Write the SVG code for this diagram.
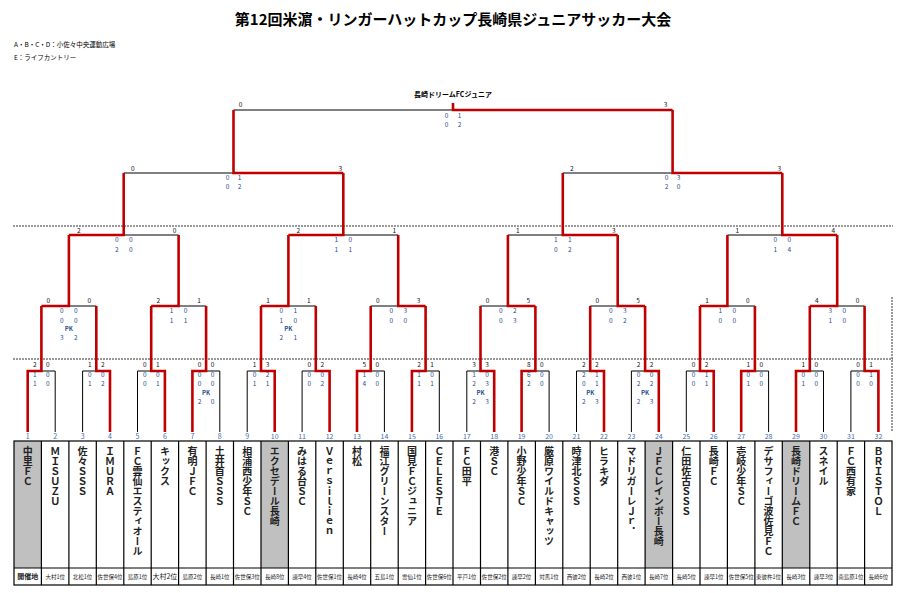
<svg xmlns="http://www.w3.org/2000/svg" width="903" height="593" viewBox="0 0 903 593">
<style>
text{font-family:"Noto Sans CJK JP","Liberation Sans",sans-serif;}
.ttl{font-size:15px;font-weight:bold;text-anchor:middle}
.sub{font-size:6.5px}
.bk{fill:none;stroke:#000;stroke-width:1}
.rd{fill:none;stroke:#c00000;stroke-width:2.6}
.dash{fill:none;stroke:#333;stroke-width:1;stroke-dasharray:2 1}
.t{font-size:6.5px;fill:#111;text-anchor:middle}
.h{font-size:6.5px;fill:#1f4f8f;text-anchor:middle}
.pk{font-size:6px;fill:#1f4f8f;text-anchor:middle;font-weight:bold}
.num{font-size:7px;fill:#3a6fb0;text-anchor:middle}
.nm{font-size:10px;font-weight:bold;writing-mode:vertical-rl;text-orientation:upright;fill:#222}
.loc{font-size:5.5px;text-anchor:middle;fill:#222}
.cell{fill:none;stroke:#000;stroke-width:1.2}
.sh{fill:#c0c0c0}
</style>
<rect width="903" height="593" fill="#fff"/>
<g id="header">
<text class="ttl" x="453" y="25">第12回米濵・リンガーハットカップ長崎県ジュニアサッカー大会</text>
<text class="sub" x="14" y="47">A・B・C・D：小佐々中央運動広場</text>
<text class="sub" x="14" y="60">E：ライフカントリー</text>
<text x="453" y="97" style="font-size:7px;font-weight:bold;text-anchor:middle">長崎ドリームFCジュニア</text>
</g>
<g id="guides">
<path class="dash" d="M13 226H893M13 359H893M892 297V432"/>
</g>
<g id="connectors">
<path class="bk" d="M41.4 371H55.2V432M96.3 371H82.6V432M151.2 371H137.5V432M206.1 371H219.8V432M261 371H247.2V432M315.8 371H302.1V432M370.7 371H384.4V432M425.6 371H439.3V432M480.5 371H466.8V432M535.4 371H549.1V432M590.2 371H576.5V432M645.1 371H631.4V432M700 371H686.3V432M754.9 371H768.6V432M809.8 371H823.5V432M864.6 371H850.9V432"/>
<path class="bk" d="M68.9 306H96.3M178.6 306H206.1M288.4 306H315.8M398.2 306H370.7M507.9 306H480.5M617.7 306H590.2M727.4 306H754.9M837.2 306H864.6M123.7 235H178.6M343.3 235H398.2M562.8 235H507.9M782.3 235H727.4M233.5 173H123.7M672.6 173H562.8M453 110H233.5"/>
<path class="rd" d="M27.7 432V371H41.4V306M110 432V371H96.3V306M164.9 432V371H151.2V306M192.4 432V371H206.1V306M274.7 432V371H261V306M329.6 432V371H315.8V306M357 432V371H370.7V306M411.9 432V371H425.6V306M494.2 432V371H480.5V306M521.6 432V371H535.4V306M604 432V371H590.2V306M658.8 432V371H645.1V306M713.7 432V371H700V306M741.2 432V371H754.9V306M796 432V371H809.8V306M878.4 432V371H864.6V306"/>
<path class="rd" d="M41.4 306H68.9V235M151.2 306H178.6V235M261 306H288.4V235M425.6 306H398.2V235M535.4 306H507.9V235M645.1 306H617.7V235M700 306H727.4V235M809.8 306H837.2V235M68.9 235H123.7V173M288.4 235H343.3V173M617.7 235H562.8V173M837.2 235H782.3V173M343.3 173H233.5V110M782.3 173H672.6V110M672.6 110H453V103"/>
</g>
<g id="scores">
<text class="t" x="34.9 47.9" y="367">20</text><text class="h" x="34.9 47.9" y="376.5">10</text><text class="h" x="34.9 47.9" y="386">10</text>
<text class="t" x="89.8 102.8" y="367">12</text><text class="h" x="89.8 102.8" y="376.5">00</text><text class="h" x="89.8 102.8" y="386">12</text>
<text class="t" x="144.7 157.7" y="367">01</text><text class="h" x="144.7 157.7" y="376.5">00</text><text class="h" x="144.7 157.7" y="386">01</text>
<text class="t" x="199.6 212.6" y="367">00</text><text class="h" x="199.6 212.6" y="376.5">00</text><text class="h" x="199.6 212.6" y="386">00</text><text class="pk" x="206.1" y="395">PK</text><text class="h" x="199.6 212.6" y="404">20</text>
<text class="t" x="254.5 267.5" y="367">13</text><text class="h" x="254.5 267.5" y="376.5">02</text><text class="h" x="254.5 267.5" y="386">11</text>
<text class="t" x="309.3 322.3" y="367">02</text><text class="h" x="309.3 322.3" y="376.5">00</text><text class="h" x="309.3 322.3" y="386">02</text>
<text class="t" x="364.2 377.2" y="367">50</text><text class="h" x="364.2 377.2" y="376.5">10</text><text class="h" x="364.2 377.2" y="386">40</text>
<text class="t" x="419.1 432.1" y="367">21</text><text class="h" x="419.1 432.1" y="376.5">10</text><text class="h" x="419.1 432.1" y="386">11</text>
<text class="t" x="474 487" y="367">33</text><text class="h" x="474 487" y="376.5">10</text><text class="h" x="474 487" y="386">23</text><text class="pk" x="480.5" y="395">PK</text><text class="h" x="474 487" y="404">23</text>
<text class="t" x="528.9 541.9" y="367">80</text><text class="h" x="528.9 541.9" y="376.5">60</text><text class="h" x="528.9 541.9" y="386">20</text>
<text class="t" x="583.7 596.7" y="367">22</text><text class="h" x="583.7 596.7" y="376.5">21</text><text class="h" x="583.7 596.7" y="386">01</text><text class="pk" x="590.2" y="395">PK</text><text class="h" x="583.7 596.7" y="404">23</text>
<text class="t" x="638.6 651.6" y="367">22</text><text class="h" x="638.6 651.6" y="376.5">00</text><text class="h" x="638.6 651.6" y="386">22</text><text class="pk" x="645.1" y="395">PK</text><text class="h" x="638.6 651.6" y="404">23</text>
<text class="t" x="693.5 706.5" y="367">02</text><text class="h" x="693.5 706.5" y="376.5">01</text><text class="h" x="693.5 706.5" y="386">01</text>
<text class="t" x="748.4 761.4" y="367">10</text><text class="h" x="748.4 761.4" y="376.5">00</text><text class="h" x="748.4 761.4" y="386">10</text>
<text class="t" x="803.3 816.3" y="367">10</text><text class="h" x="803.3 816.3" y="376.5">00</text><text class="h" x="803.3 816.3" y="386">10</text>
<text class="t" x="858.1 871.1" y="367">01</text><text class="h" x="858.1 871.1" y="376.5">01</text><text class="h" x="858.1 871.1" y="386">00</text>

<text class="t" x="48.4 89.3" y="303">00</text><text class="h" x="61.9 75.9" y="312.5">00</text><text class="h" x="61.9 75.9" y="323">00</text><text class="pk" x="68.9" y="330.5">PK</text><text class="h" x="61.9 75.9" y="339.5">32</text>
<text class="t" x="158.2 199.1" y="303">21</text><text class="h" x="171.6 185.6" y="312.5">10</text><text class="h" x="171.6 185.6" y="323">11</text>
<text class="t" x="268 308.8" y="303">11</text><text class="h" x="281.4 295.4" y="312.5">01</text><text class="h" x="281.4 295.4" y="323">10</text><text class="pk" x="288.4" y="330.5">PK</text><text class="h" x="281.4 295.4" y="339.5">21</text>
<text class="t" x="377.7 418.6" y="303">03</text><text class="h" x="391.2 405.2" y="312.5">03</text><text class="h" x="391.2 405.2" y="323">00</text>
<text class="t" x="487.5 528.4" y="303">05</text><text class="h" x="500.9 514.9" y="312.5">02</text><text class="h" x="500.9 514.9" y="323">03</text>
<text class="t" x="597.2 638.1" y="303">05</text><text class="h" x="610.7 624.7" y="312.5">03</text><text class="h" x="610.7 624.7" y="323">02</text>
<text class="t" x="707 747.9" y="303">10</text><text class="h" x="720.4 734.4" y="312.5">10</text><text class="h" x="720.4 734.4" y="323">00</text>
<text class="t" x="816.8 857.6" y="303">40</text><text class="h" x="830.2 844.2" y="312.5">30</text><text class="h" x="830.2 844.2" y="323">10</text>

<text class="t" x="78.9 174.6" y="233">20</text><text class="h" x="116.7 130.7" y="242">00</text><text class="h" x="116.7 130.7" y="252">20</text>
<text class="t" x="298.4 394.2" y="233">21</text><text class="h" x="336.3 350.3" y="242">10</text><text class="h" x="336.3 350.3" y="252">11</text>
<text class="t" x="517.9 613.7" y="233">13</text><text class="h" x="555.8 569.8" y="242">11</text><text class="h" x="555.8 569.8" y="252">02</text>
<text class="t" x="737.4 833.2" y="233">14</text><text class="h" x="775.3 789.3" y="242">00</text><text class="h" x="775.3 789.3" y="252">14</text>

<text class="t" x="132.7 340.3" y="170.5">03</text><text class="h" x="227.5 239.5" y="180">01</text><text class="h" x="227.5 239.5" y="189">02</text>
<text class="t" x="571.8 779.3" y="170.5">23</text><text class="h" x="666.6 678.6" y="180">03</text><text class="h" x="666.6 678.6" y="189">20</text>

<text class="t" x="240.5 665.6" y="107">03</text><text class="h" x="446.5 459.5" y="117.5">01</text><text class="h" x="446.5 459.5" y="127">02</text>
</g>
<g id="team-numbers">
<text class="num" x="27.7 55.2 82.6 110 137.5 164.9 192.4 219.8 247.2" y="439">123456789</text>
<text class="num" x="274.7" y="439">10</text><text class="num" x="302.1" y="439">11</text><text class="num" x="329.6" y="439">12</text><text class="num" x="357" y="439">13</text><text class="num" x="384.4" y="439">14</text><text class="num" x="411.9" y="439">15</text><text class="num" x="439.3" y="439">16</text><text class="num" x="466.8" y="439">17</text><text class="num" x="494.2" y="439">18</text><text class="num" x="521.6" y="439">19</text><text class="num" x="549.1" y="439">20</text><text class="num" x="576.5" y="439">21</text><text class="num" x="604" y="439">22</text><text class="num" x="631.4" y="439">23</text><text class="num" x="658.8" y="439">24</text><text class="num" x="686.3" y="439">25</text><text class="num" x="713.7" y="439">26</text><text class="num" x="741.2" y="439">27</text><text class="num" x="768.6" y="439">28</text><text class="num" x="796" y="439">29</text><text class="num" x="823.5" y="439">30</text><text class="num" x="850.9" y="439">31</text><text class="num" x="878.4" y="439">32</text>
</g>
<g id="team-table">
<rect class="sh" x="14" y="441" width="27.44" height="127"/>
<rect class="sh" x="260.96" y="441" width="27.44" height="127"/>
<rect class="sh" x="645.12" y="441" width="27.44" height="127"/>
<rect class="sh" x="782.32" y="441" width="27.44" height="127"/>
<rect class="cell" x="14" y="441" width="878" height="144"/>
<path class="cell" d="M14 568H892M41.4 441V585M68.9 441V585M96.3 441V585M123.8 441V585M151.2 441V585M178.6 441V585M206.1 441V585M233.5 441V585M261 441V585M288.4 441V585M315.8 441V585M343.3 441V585M370.7 441V585M398.2 441V585M425.6 441V585M453 441V585M480.5 441V585M507.9 441V585M535.4 441V585M562.8 441V585M590.2 441V585M617.7 441V585M645.1 441V585M672.6 441V585M700 441V585M727.4 441V585M754.9 441V585M782.3 441V585M809.8 441V585M837.2 441V585M864.6 441V585"/>
</g>
<g id="team-names">
<text class="nm" x="27.7" y="446">中里ＦＣ</text>
<text class="nm" x="55.2" y="446">ＭＩＳＵＺＵ</text>
<text class="nm" x="82.6" y="446">佐々ＳＳＳ</text>
<text class="nm" x="110" y="446">ＩＭＵＲＡ</text>
<text class="nm" x="137.5" y="446">ＦＣ雲仙エスティオール</text>
<text class="nm" x="164.9" y="446">キックス</text>
<text class="nm" x="192.4" y="446">有明ＪＦＣ</text>
<text class="nm" x="219.8" y="446">土井首ＳＳＳ</text>
<text class="nm" x="247.2" y="446">相浦西少年ＳＣ</text>
<text class="nm" x="274.7" y="446">エクセデール長崎</text>
<text class="nm" x="302.1" y="446">みはる台ＳＣ</text>
<text class="nm" x="329.6" y="446">Ｖｅｒｓｉｌｉｅｎ</text>
<text class="nm" x="357" y="446">村松</text>
<text class="nm" x="384.4" y="446">福江グリーンスター</text>
<text class="nm" x="411.9" y="446">国見ＦＣジュニア</text>
<text class="nm" x="439.3" y="446">ＣＥＬＥＳＴＥ</text>
<text class="nm" x="466.8" y="446">ＦＣ田平</text>
<text class="nm" x="494.2" y="446">港ＳＣ</text>
<text class="nm" x="521.6" y="446">小野少年ＳＣ</text>
<text class="nm" x="549.1" y="446">厳原ワイルドキャッツ</text>
<text class="nm" x="576.5" y="446">時津北ＳＳＳ</text>
<text class="nm" x="604" y="446">ヒラキダ</text>
<text class="nm" x="631.4" y="446">マドリガーレＪｒ．</text>
<text class="nm" x="658.8" y="446">ＪＦＣレインボー長崎</text>
<text class="nm" x="686.3" y="446">仁田佐古ＳＳＳ</text>
<text class="nm" x="713.7" y="446">長崎ＦＣ</text>
<text class="nm" x="741.2" y="446">壱岐少年ＳＣ</text>
<text class="nm" x="768.6" y="446">デサフィーゴ波佐見ＦＣ</text>
<text class="nm" x="796" y="446">長崎ドリームＦＣ</text>
<text class="nm" x="823.5" y="446">スネイル</text>
<text class="nm" x="850.9" y="446">ＦＣ西有家</text>
<text class="nm" x="878.4" y="446">ＢＲＩＳＴＯＬ</text>
</g>
<g id="qualifiers">
<text class="loc" x="27.7" y="579" style="font-size:7px;font-weight:bold">開催地</text>
<text class="loc" x="55.2" y="579">大村1位</text>
<text class="loc" x="82.6" y="579">北松1位</text>
<text class="loc" x="110" y="579">佐世保4位</text>
<text class="loc" x="137.5" y="579">島原1位</text>
<text class="loc" x="164.9" y="579" style="font-size:7px">大村2位</text>
<text class="loc" x="192.4" y="579">島原2位</text>
<text class="loc" x="219.8" y="579">長崎1位</text>
<text class="loc" x="247.2" y="579">佐世保3位</text>
<text class="loc" x="274.7" y="579">長崎8位</text>
<text class="loc" x="302.1" y="579">諫早4位</text>
<text class="loc" x="329.6" y="579">佐世保1位</text>
<text class="loc" x="357" y="579">長崎4位</text>
<text class="loc" x="384.4" y="579">五島1位</text>
<text class="loc" x="411.9" y="579">雲仙1位</text>
<text class="loc" x="439.3" y="579">佐世保6位</text>
<text class="loc" x="466.8" y="579">平戸1位</text>
<text class="loc" x="494.2" y="579">佐世保2位</text>
<text class="loc" x="521.6" y="579">諫早2位</text>
<text class="loc" x="549.1" y="579">対馬1位</text>
<text class="loc" x="576.5" y="579">西彼2位</text>
<text class="loc" x="604" y="579">長崎2位</text>
<text class="loc" x="631.4" y="579">西彼1位</text>
<text class="loc" x="658.8" y="579">長崎7位</text>
<text class="loc" x="686.3" y="579">長崎5位</text>
<text class="loc" x="713.7" y="579">諫早1位</text>
<text class="loc" x="741.2" y="579">佐世保5位</text>
<text class="loc" x="768.6" y="579">東彼杵1位</text>
<text class="loc" x="796" y="579">長崎3位</text>
<text class="loc" x="823.5" y="579">諫早3位</text>
<text class="loc" x="850.9" y="579">南島原1位</text>
<text class="loc" x="878.4" y="579">長崎6位</text>
</g>
</svg>
